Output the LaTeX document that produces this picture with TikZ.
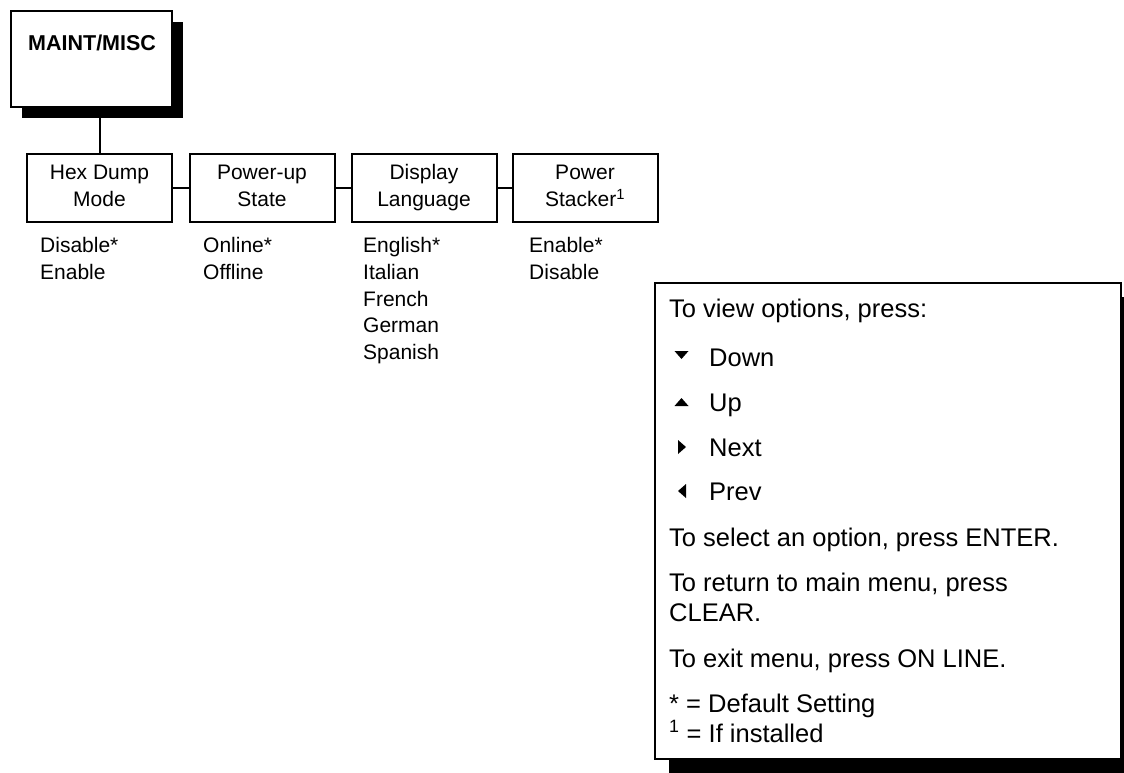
\documentclass[tikz,border=0pt]{standalone}
\usepackage{fontspec}
\setmainfont{Liberation Sans}
\begin{document}
\begin{tikzpicture}[x=1pt,y=-1pt,
  boxline/.style={draw=black, line width=2pt, fill=white, inner sep=0pt},
  shadowfill/.style={fill=black, draw=none, inner sep=0pt},
  menubox/.style={boxline, minimum width=145pt, minimum height=68pt, align=center,
    font=\fontsize{21}{27}\selectfont},
  opt/.style={anchor=base west, inner sep=0pt, font=\fontsize{21}{27}\selectfont},
  legtext/.style={anchor=base west, inner sep=0pt, font=\fontsize{25.5}{30}\selectfont},
  conn/.style={draw=black, line width=2pt},
  tri/.style={fill=black}]
\useasboundingbox (0,0) rectangle (1124,772);

% main box with shadow
\node[shadowfill, minimum width=161pt, minimum height=96pt] (mainshadow) at (102.5,70) {};
\node[boxline, minimum width=161pt, minimum height=96pt] (main) at (91.5,59) {};
\node[anchor=west, inner sep=0pt, font=\fontsize{21.5}{25}\selectfont\bfseries] (maintitle) at (28,43) {MAINT/MISC};

% menu boxes
\node[menubox] (hex) at (99.5,188) {Hex Dump\\Mode\vphantom{g}};
\node[menubox] (pwr) at (262,188) {Power-up\\State\vphantom{g}};
\node[menubox] (lang) at (424,188) {Display\\Language};
\node[menubox] (stack) at (585,188) {Power\\Stacker\textsuperscript{1}\vphantom{g}};

\draw[conn] (mainshadow.south -| hex.north) -- (hex.north);
\draw[conn] (hex.east) -- (pwr.west);
\draw[conn] (pwr.east) -- (lang.west);
\draw[conn] (lang.east) -- (stack.west);

% options
\foreach \t [count=\i] in {Disable*,Enable}
  \node[opt] (hexo\i) at (40,252.5+26.8*\i-26.8) {\t};
\foreach \t [count=\i] in {Online*,Offline}
  \node[opt] (pwro\i) at (203,252.5+26.8*\i-26.8) {\t};
\foreach \t [count=\i] in {English*,Italian,French,German,Spanish}
  \node[opt] (lango\i) at (363,252.5+26.8*\i-26.8) {\t};
\foreach \t [count=\i] in {Enable*,Disable}
  \node[opt] (stacko\i) at (529,252.5+26.8*\i-26.8) {\t};

% legend box with shadow
\node[shadowfill, minimum width=466pt, minimum height=476pt] (legshadow) at (902,535) {};
\node[boxline, minimum width=466pt, minimum height=476pt] (legend) at (888,521) {};

\node[legtext] (l1) at (669,317) {To view options, press:};
\fill[tri] (674.5,351) -- (688.5,351) -- (681.5,359) -- cycle;
\node[legtext] (l2) at (709,366) {Down};
\fill[tri] (674.5,406) -- (688.5,406) -- (681.5,398) -- cycle;
\node[legtext] (l3) at (709,411) {Up};
\fill[tri] (678,440) -- (678,454) -- (686,447) -- cycle;
\node[legtext] (l4) at (709,456) {Next};
\fill[tri] (686,484) -- (686,498) -- (678,491) -- cycle;
\node[legtext] (l5) at (709,500) {Prev};
\node[legtext] (l6) at (669,546) {To select an option, press ENTER.};
\node[legtext] (l7) at (669,591) {To return to main menu, press};
\node[legtext] (l8) at (669,621) {CLEAR.};
\node[legtext] (l9) at (669,667) {To exit menu, press ON LINE.};
\node[legtext] (l10) at (669,712) {* = Default Setting};
\node[legtext] (l11) at (669,742) {\textsuperscript{1} = If installed};
\end{tikzpicture}
\end{document}
